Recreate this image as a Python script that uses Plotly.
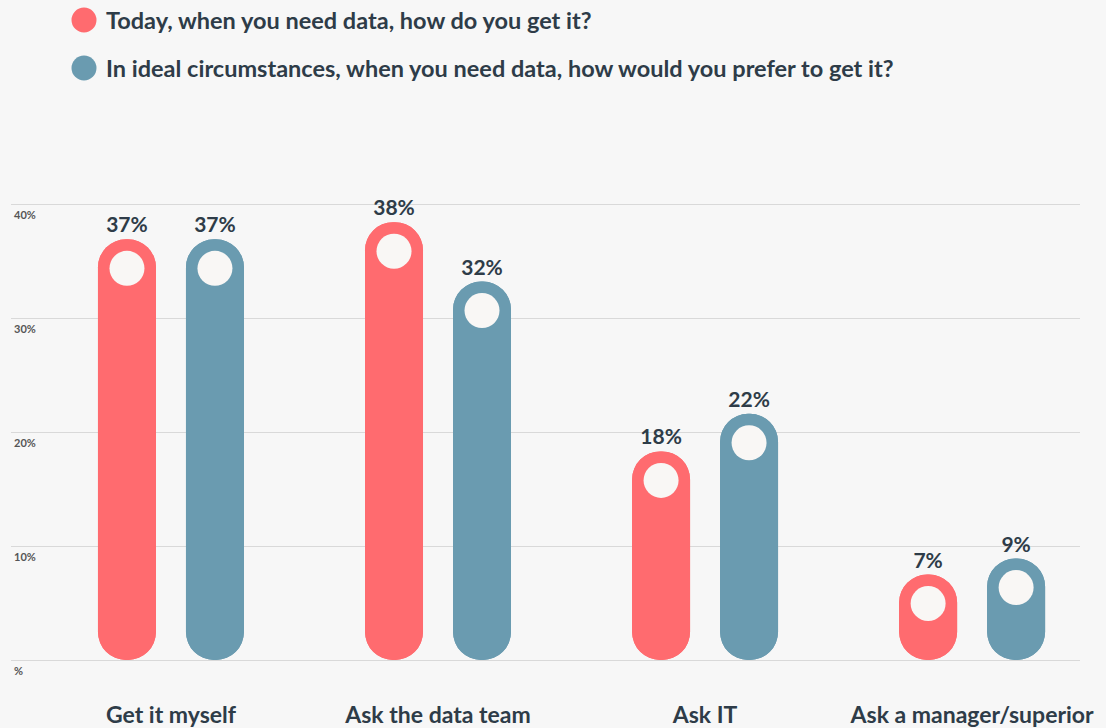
import plotly.graph_objects as go

# ---------------- data ----------------
categories = ["Get it myself", "Ask the data team", "Ask IT", "Ask a manager/superior"]
series_names = [
    "Today, when you need data, how do you get it?",
    "In ideal circumstances, when you need data, how would you prefer to get it?",
]
today_values = [36.9, 38.4, 18.3, 7.5]          # bar heights
ideal_values = [36.9, 33.2, 21.6, 8.9]
today_labels = ["37%", "38%", "18%", "7%"]
ideal_labels = ["37%", "32%", "22%", "9%"]
y_tickvals = [0, 10, 20, 30, 40]
y_ticktext = ["%", "10%", "20%", "30%", "40%"]

# ---------------- style ----------------
W, H = 1106, 728
ZERO_PX = 660            # pixel row of the 0 line
BOTTOM_PAD_PX = 18       # plot area continues a little below the 0 line
M_L, M_R, M_T = 11, 26, 160
M_B = H - ZERO_PX - BOTTOM_PAD_PX
PX_PER_UNIT = 11.4
PLOT_H = H - M_T - M_B
Y_MIN = -BOTTOM_PAD_PX / PX_PER_UNIT
Y_MAX = (ZERO_PX - M_T) / PX_PER_UNIT
BAR_PX = 58
CAP_R = (BAR_PX / 2) / PX_PER_UNIT

RED = "#ff6b6f"
BLUE = "#6a9bb0"
DOT = "#f9f7f5"
TEXT = "#2e3c48"
BG = "#f7f7f7"
GRID = "#d9d9d9"
FONT = "Lato"

fig = go.Figure()

for name, vals, labels, color, grp in [
    (series_names[0], today_values, today_labels, RED, "today"),
    (series_names[1], ideal_values, ideal_labels, BLUE, "ideal"),
]:
    # full bar from 0, rounded at the top
    fig.add_trace(go.Bar(
        x=categories, y=vals, base=[0] * len(vals),
        marker=dict(color=color, cornerradius="50%", line=dict(width=0)),
        offsetgroup=grp, name=name, showlegend=False,
        text=labels, textposition="outside", cliponaxis=False,
        constraintext="none",
        textfont=dict(family=FONT, size=21, color=TEXT, weight="bold"),
        hoverinfo="skip",
    ))
    # full bar drawn downwards from the value to 0, rounded at the bottom
    fig.add_trace(go.Bar(
        x=categories, y=[-v for v in vals], base=vals,
        marker=dict(color=color, cornerradius="50%", line=dict(width=0)),
        offsetgroup=grp, name=name, showlegend=False,
        hoverinfo="skip",
    ))
    # light dot inside the top cap
    fig.add_trace(go.Scatter(
        x=categories, y=[v - CAP_R for v in vals], mode="markers",
        marker=dict(size=35, color=DOT, line=dict(width=0)),
        offsetgroup=grp, showlegend=False, hoverinfo="skip", cliponaxis=False,
    ))

# ---------------- custom legend ----------------
plot_w = W - M_L - M_R
def px_x(px):
    return (px - M_L) / plot_w
def px_y(py):
    return (H - M_B - py) / PLOT_H

legend_rows = [(series_names[0], RED, 20), (series_names[1], BLUE, 68)]
shapes = []
annotations = []
for name, color, cy in legend_rows:
    shapes.append(dict(
        type="circle", xref="paper", yref="paper",
        x0=px_x(84 - 12.5), x1=px_x(84 + 12.5),
        y0=px_y(cy + 12.5), y1=px_y(cy - 12.5),
        fillcolor=color, line=dict(width=0), layer="above",
    ))
    annotations.append(dict(
        xref="paper", yref="paper", x=px_x(104), y=px_y(cy),
        xanchor="left", yanchor="middle", showarrow=False,
        text=f"<b>{name}</b>",
        font=dict(family=FONT, size=23.5, color=TEXT),
    ))

fig.update_layout(
    width=W, height=H,
    margin=dict(l=M_L, r=M_R, t=M_T, b=M_B, autoexpand=False),
    paper_bgcolor=BG, plot_bgcolor=BG,
    barmode="group", bargap=0.341, bargroupgap=0.341,
    scattermode="group", scattergap=0.341,
    showlegend=False,
    shapes=shapes, annotations=annotations,
    font=dict(family=FONT, color=TEXT),
    xaxis=dict(
        type="category", range=[-0.599, 3.404],
        showgrid=False, zeroline=False, showline=False,
        ticks="outside", ticklen=34 - BOTTOM_PAD_PX, tickcolor="rgba(0,0,0,0)",
        tickfont=dict(family=FONT, size=23, color=TEXT, weight="bold"),
        fixedrange=True,
    ),
    yaxis=dict(
        range=[Y_MIN, Y_MAX],
        tickvals=y_tickvals, ticktext=y_ticktext,
        ticklabelposition="inside", ticklabelshift=11,
        tickfont=dict(family=FONT, size=11, color="#555555", weight="bold"),
        showgrid=True, gridcolor=GRID, gridwidth=1,
        zeroline=True, zerolinecolor=GRID, zerolinewidth=1,
        showline=False, ticks="",
        fixedrange=True,
    ),
)

fig.write_html(
    "out.html",
    config={"displayModeBar": False},
    post_script="document.body.style.margin='0';document.body.style.background='%s';" % BG,
)
